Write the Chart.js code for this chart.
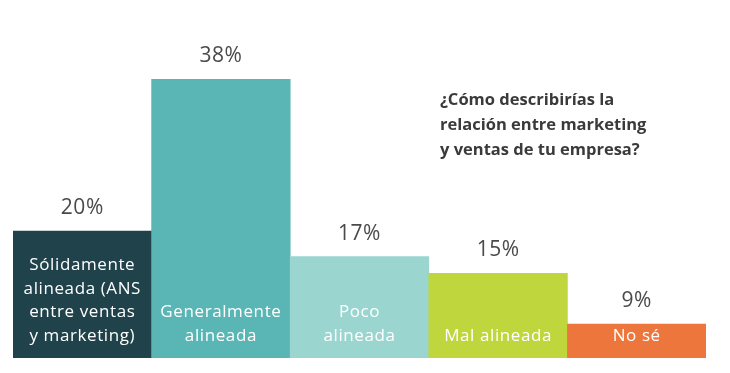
<!DOCTYPE html>
<html>
<head>
<meta charset="utf-8">
<script src="https://cdn.jsdelivr.net/npm/chart.js@4"></script>
<style>
  html, body { margin: 0; padding: 0; background: #ffffff; }
  #wrap { position: relative; width: 730px; height: 373px; }
</style>
</head>
<body>
<div id="wrap"><canvas id="grafica" width="730" height="373"></canvas></div>
<script>
// datos de la gráfica
const categorias = [
  ["Sólidamente", "alineada (ANS", "entre ventas", "y marketing)"],
  ["Generalmente", "alineada"],
  ["Poco", "alineada"],
  ["Mal alineada"],
  ["No sé"]
];
const porcentajes = [20, 38, 17, 15, 9];
const colores = ["#1f424b", "#59b6b5", "#9ad6cf", "#bfd63c", "#ec763c"];
const titulo = ["¿Cómo describirías la", "relación entre marketing", "y ventas de tu empresa?"];

const fuente = "'Open Sans', sans-serif";

// Dibuja etiquetas dentro de las barras, porcentajes arriba y el título
const etiquetasPlugin = {
  id: "etiquetas",
  afterDatasetsDraw(chart) {
    const ctx = chart.ctx;
    const barras = chart.getDatasetMeta(0).data;
    const abajo = chart.chartArea.bottom;
    ctx.save();
    ctx.textAlign = "center";
    ctx.textBaseline = "middle";
    barras.forEach((barra, i) => {
      // porcentaje
      ctx.fillStyle = "#4a4a4a";
      ctx.font = "21px " + fuente;
      ctx.letterSpacing = "0.5px";
      ctx.fillText(porcentajes[i] + "%", barra.x, barra.y - 23);

      // texto dentro de la barra
      ctx.fillStyle = "#ffffff";
      ctx.font = "17px " + fuente;
      ctx.letterSpacing = "0.6px";
      const lineas = categorias[i];
      lineas.forEach((linea, j) => {
        const y = abajo - 22 - (lineas.length - 1 - j) * 23.5;
        ctx.fillText(linea, barra.x, y);
      });
    });

    // título
    ctx.textAlign = "left";
    ctx.fillStyle = "#3a3a3a";
    ctx.letterSpacing = "0px";
    ctx.font = "bold 16.5px " + fuente;
    titulo.forEach((linea, j) => {
      ctx.fillText(linea, 440, 100 + j * 25);
    });
    ctx.restore();
  }
};

new Chart(document.getElementById("grafica"), {
  type: "bar",
  data: {
    labels: categorias.map(c => c.join(" ")),
    datasets: [{
      data: porcentajes,
      backgroundColor: colores,
      borderWidth: 0,
      barPercentage: 1,
      categoryPercentage: 1
    }]
  },
  options: {
    responsive: false,
    animation: false,
    layout: { padding: { left: 13, right: 24, top: 79, bottom: 15 } },
    plugins: {
      legend: { display: false },
      tooltip: { enabled: false }
    },
    scales: {
      x: { display: false },
      y: { display: false, min: 5, max: 38 }
    }
  },
  plugins: [etiquetasPlugin]
});
</script>
</body>
</html>
